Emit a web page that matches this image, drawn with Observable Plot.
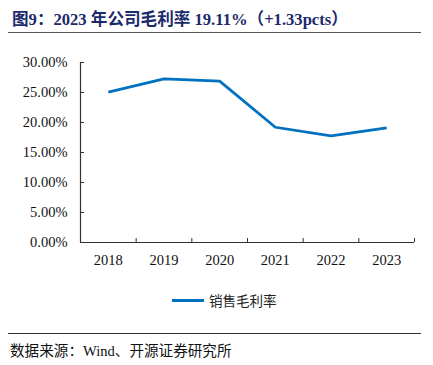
<!DOCTYPE html>
<html>
<head>
<meta charset="utf-8">
<script src="https://cdn.jsdelivr.net/npm/d3@7"></script>
<script src="https://cdn.jsdelivr.net/npm/@observablehq/plot@0.6"></script>
<style>
  html, body { margin: 0; padding: 0; background: #fff; }
  #wrap { position: relative; width: 433px; height: 365px; overflow: hidden; font-family: "Liberation Serif", "Noto Sans CJK SC", serif; }
  #title { position: absolute; left: 12px; top: 6px; font-size: 16.6px; font-weight: bold; color: #1b2a6b; white-space: nowrap; letter-spacing: 0; }
  #tline { position: absolute; left: 8px; top: 32px; width: 413px; height: 0; border-top: 1.5px solid #555; }
  #chart { position: absolute; left: 0; top: 40px; }
  #legend { position: absolute; left: 172px; top: 290px; display: flex; align-items: center; font-family: "Noto Sans CJK SC", sans-serif; font-size: 13.5px; color: #222; white-space: nowrap; }
  #legend .sw { width: 32px; height: 0; border-top: 3px solid #0070c0; margin-right: 5px; }
  #bline { position: absolute; left: 8px; top: 333px; width: 413px; height: 0; border-top: 1.2px solid #333; }
  #source { position: absolute; left: 10px; top: 339px; font-size: 14.6px; color: #111; white-space: nowrap; font-family: "Liberation Serif", "Noto Sans CJK SC", serif; }
</style>
</head>
<body>
<div id="wrap">
  <div id="title">图9：2023 年公司毛利率 19.11%（+1.33pcts）</div>
  <div id="tline"></div>
  <div id="chart"></div>
  <div id="legend"><span class="sw"></span><span>销售毛利率</span></div>
  <div id="bline"></div>
  <div id="source">数据来源：Wind、开源证券研究所</div>
</div>
<script>
const years = [2018, 2019, 2020, 2021, 2022, 2023];
const grossMargin = [0.2505, 0.2728, 0.2690, 0.1921, 0.1778, 0.1911];
const yTicks = [0, 0.05, 0.10, 0.15, 0.20, 0.25, 0.30];
const xBoundaries = [2018.5, 2019.5, 2020.5, 2021.5, 2022.5, 2023.5];
const seriesName = "销售毛利率";

const data = years.map((year, i) => ({year, value: grossMargin[i], series: seriesName}));

const axisColor = "#333";
const fontFam = "Liberation Serif, Times New Roman, serif";

const plot = Plot.plot({
  width: 433,
  height: 242,
  marginTop: 22,
  marginBottom: 40,
  marginLeft: 80,
  marginRight: 19,
  style: {fontFamily: fontFam, fontSize: "14.5px", color: "#111", background: "#fff"},
  x: {type: "linear", domain: [2017.5, 2023.5]},
  y: {domain: [0, 0.30]},
  marks: [
    Plot.axisY({ticks: yTicks, tickSize: 0, tickPadding: 13, tickFormat: d3.format(".2%"), label: null, fill: "#111"}),
    Plot.axisY({ticks: yTicks, tickSize: -4, text: null, label: null, stroke: axisColor}),
    Plot.axisX({ticks: years, tickSize: 0, tickPadding: 12, tickFormat: d => String(d), label: null, fill: "#111"}),
    Plot.axisX({ticks: xBoundaries, tickSize: -4, text: null, label: null, stroke: axisColor}),
    Plot.ruleX([2017.5], {stroke: axisColor, strokeWidth: 1.2}),
    Plot.ruleY([0], {stroke: axisColor, strokeWidth: 1.2}),
    Plot.line(data, {x: "year", y: "value", stroke: "#0070c0", strokeWidth: 2.75, strokeLinejoin: "round", strokeLinecap: "butt"})
  ]
});
document.getElementById("chart").appendChild(plot);
</script>
</body>
</html>
